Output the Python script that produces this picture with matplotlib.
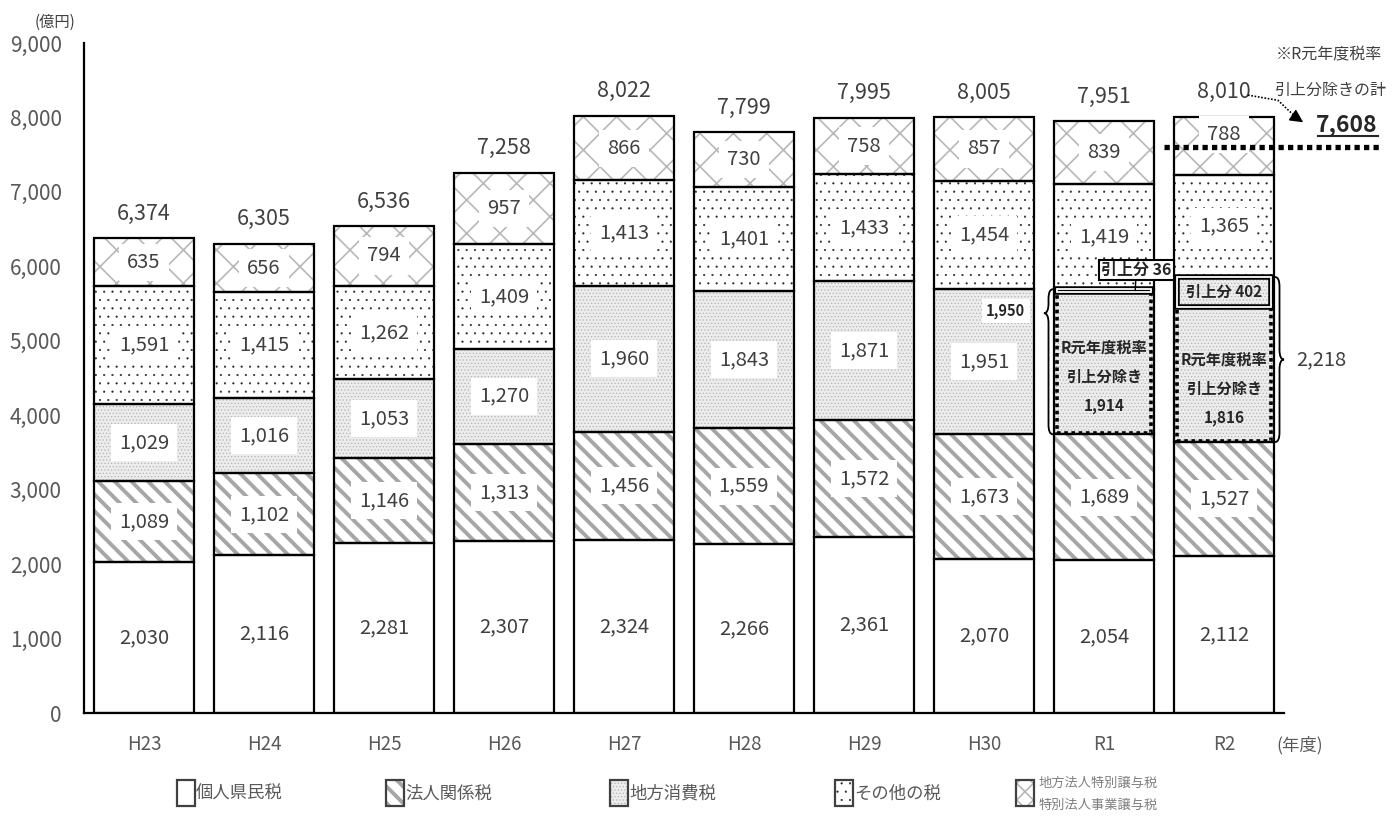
import matplotlib.pyplot as plt
import numpy as np
from matplotlib.patches import Rectangle, PathPatch, FancyArrowPatch
from matplotlib.path import Path

plt.rcParams['font.family'] = ['Noto Sans CJK JP', 'DejaVu Sans']

# 県税収入の内訳（億円）
years = ['H23', 'H24', 'H25', 'H26', 'H27', 'H28', 'H29', 'H30', 'R1', 'R2']
kojin = [2030, 2116, 2281, 2307, 2324, 2266, 2361, 2070, 2054, 2112]
houjin = [1089, 1102, 1146, 1313, 1456, 1559, 1572, 1673, 1689, 1527]
shohi = [1029, 1016, 1053, 1270, 1960, 1843, 1871, 1951, 1950, 2218]
sonota = [1591, 1415, 1262, 1409, 1413, 1401, 1433, 1454, 1419, 1365]
jouyo = [635, 656, 794, 957, 866, 730, 758, 857, 839, 788]
totals = [6374, 6305, 6536, 7258, 8022, 7799, 7995, 8005, 7951, 8010]

# R1・R2 の地方消費税（税率引上分とそれ以外）
shohi_base = [1914, 1816]
shohi_up = [36, 402]
excl_total = 7608

legend_names = ['個人県民税', '法人関係税', '地方消費税', 'その他の税',
                '地方法人特別譲与税\n特別法人事業譲与税']

# facecolor, hatch, hatch color, hatch linewidth
styles = [
    ('white', None, 'white', 1.0),
    ('white', '\\\\', '#a6a6a6', 2.8),
    ('#ececec', '.....', '#b4b4b4', 0.5),
    ('white', '..', '#262626', 0.3),
    ('white', 'x', '#b8b8b8', 1.2),
]
series = [kojin, houjin, shohi, sonota, jouyo]


def hatch_width(artists, lw):
    for a in artists:
        if hasattr(a, 'set_hatch_linewidth'):
            a.set_hatch_linewidth(lw)


W, H = 1394, 827
fig = plt.figure(figsize=(W / 100, H / 100), dpi=100)
ax = fig.add_axes([84 / W, 1 - 713 / H, 1200 / W, 670 / H])

x = np.arange(len(years))
bw = 0.83
bottom = np.zeros(len(years))
label_col = '#404040'
bbox_w = dict(boxstyle='square,pad=0.4', fc='white', ec='none')

for k, (vals, (fc, hatch, hc, hlw)) in enumerate(zip(series, styles)):
    vals = np.array(vals)
    plt.rcParams['hatch.linewidth'] = hlw
    bars = ax.bar(x, vals, bw, bottom=bottom, color=fc, edgecolor=hc, hatch=hatch, linewidth=0)
    hatch_width(bars, hlw)
    ax.bar(x, vals, bw, bottom=bottom, fill=False, edgecolor='black', linewidth=1.6, zorder=3)
    for i in range(len(years)):
        if k == 2 and i >= 8:
            continue
        yc = bottom[i] + vals[i] / 2
        if k == 4 and i == 9:
            yc += 150
        ax.text(x[i], yc, f'{vals[i]:,}', ha='center', va='center', fontsize=14.5,
                color=label_col, bbox=bbox_w, zorder=5)
    bottom = bottom + vals

for i, t in enumerate(totals):
    ax.text(x[i], t + 330, f'{t:,}', ha='center', va='center', fontsize=15.5, color=label_col)

# R1・R2 地方消費税の内訳
base_y = [kojin[8] + houjin[8], kojin[9] + houjin[9]]
inset = 0.02
for j, i in enumerate([8, 9]):
    x0 = x[i] - bw / 2 + inset
    wd = bw - 2 * inset
    ax.add_patch(Rectangle((x0, base_y[j] + 15), wd, shohi_base[j] - 15, fill=False,
                           ec='black', lw=2.6, ls=(0, (1, 1)), zorder=4))
    up0 = base_y[j] + shohi_base[j]
    for lw, col in [(4.0, 'black'), (1.3, 'white')]:
        ax.add_patch(Rectangle((x0 + 0.005, up0), wd - 0.01, shohi_up[j], fill=False,
                               ec=col, lw=lw, zorder=4))
    ax.text(x[i], base_y[j] + shohi_base[j] / 2 - 190,
            f'R元年度税率\n引上分除き\n{shohi_base[j]:,}', ha='center', va='center',
            fontsize=11, fontweight='bold', color='#262626', linespacing=2.0, zorder=5)

ax.text(x[9], base_y[1] + shohi_base[1] + shohi_up[1] / 2, f'引上分 {shohi_up[1]}',
        ha='center', va='center', fontsize=11, fontweight='bold', color='#262626', zorder=5)
ax.annotate(f'引上分 {shohi_up[0]}', xy=(x[8] + 0.26, base_y[0] + shohi_base[0] + 18),
            xytext=(x[8] + 0.27, 5950), ha='center', va='center', fontsize=11.5,
            fontweight='bold', color='#262626', zorder=6,
            bbox=dict(boxstyle='square,pad=0.15', fc='white', ec='black', lw=1.5),
            arrowprops=dict(arrowstyle='-', color='black', lw=1.0, shrinkA=0, shrinkB=0))


def brace(x0, y_top, y_bot, y_tip, w, r, to_right):
    s = 1 if to_right else -1
    xm = x0 + s * w / 2
    xt = x0 + s * w
    verts = [(x0, y_top), (xm, y_top), (xm, y_top - r),
             (xm, y_tip + r), (xm, y_tip), (xt, y_tip),
             (xm, y_tip), (xm, y_tip - r),
             (xm, y_bot + r), (xm, y_bot), (x0, y_bot)]
    codes = [Path.MOVETO, Path.CURVE3, Path.CURVE3,
             Path.LINETO, Path.CURVE3, Path.CURVE3,
             Path.CURVE3, Path.CURVE3,
             Path.LINETO, Path.CURVE3, Path.CURVE3]
    ax.add_patch(PathPatch(Path(verts, codes), fill=False, ec='black', lw=1.3,
                           zorder=6, clip_on=False))


r1_top = base_y[0] + shohi[8]
r2_top = base_y[1] + shohi[9]
brace(x[8] - bw / 2 - 0.01, r1_top, base_y[0], 5370, 0.075, 130, False)
ax.text(7.18, 5400, f'{shohi[8]:,}', ha='center', va='center', fontsize=10.5,
        fontweight='bold', color='#262626', bbox=dict(boxstyle='square,pad=0.3', fc='white', ec='none'),
        zorder=5)
brace(x[9] + bw / 2 + 0.01, r2_top, base_y[1], (r2_top + base_y[1]) / 2, 0.075, 130, True)
ax.text(x[9] + 0.6, (r2_top + base_y[1]) / 2, f'{shohi[9]:,}', ha='left', va='center',
        fontsize=14.5, color=label_col)

# R元年度税率引上分除きの計
ax.plot([8.5, 10.3], [excl_total, excl_total], color='black', lw=3.8,
        ls=(0, (1, 0.8)), clip_on=False, zorder=6)
ax.plot([9.2, 9.45, 9.6], [8300, 8230, 8000], color='black', lw=1.2, ls=(0, (1, 1)),
        clip_on=False, zorder=6)
ax.add_patch(FancyArrowPatch((9.6, 8000), (9.66, 7935), arrowstyle='-|>,head_length=8,head_width=4',
                             color='black', lw=1.0, clip_on=False, zorder=6,
                             shrinkA=0, shrinkB=0))
ax.text(10.02, 7905, f'{excl_total:,}', ha='center', va='center', fontsize=16.5,
        fontweight='bold', color='#262626')
ax.plot([9.78, 10.28], [7755, 7755], color='#262626', lw=1.5, clip_on=False)
ax.text(9.87, 8840, '※R元年度税率', ha='center', va='center', fontsize=11.5, color=label_col)
ax.text(9.89, 8370, '引上分除きの計', ha='center', va='center', fontsize=11.5, color=label_col)

ax.set_xlim(-0.5, 9.5)
ax.set_ylim(0, 9000)
ax.set_yticks(np.arange(0, 9001, 1000))
ax.set_yticklabels([f'{v:,}' for v in range(0, 9001, 1000)])
ax.set_xticks(x)
ax.set_xticklabels(years)
ax.tick_params(axis='y', length=0, pad=16, labelsize=15, labelcolor='#595959')
ax.tick_params(axis='x', length=0, pad=15, labelsize=13.5, labelcolor='#595959')
for side in ['top', 'right']:
    ax.spines[side].set_visible(False)
for side in ['left', 'bottom']:
    ax.spines[side].set_linewidth(1.6)

fig.text(55 / W, 1 - 22 / H, '(億円)', ha='center', va='center', fontsize=11, color=label_col)
fig.text(1300 / W, 1 - 745 / H, '(年度)', ha='center', va='center', fontsize=12.5,
         color='#595959')

# 凡例
leg_x = [177, 386, 610, 835, 1016]
for (fc, hatch, hc, hlw), lx, name in zip(styles, leg_x, legend_names):
    plt.rcParams['hatch.linewidth'] = hlw
    icon_hatch = 'xx' if hatch == 'x' else hatch
    icon = Rectangle((lx / W, 1 - 806 / H), 18 / W, 26 / H, transform=fig.transFigure,
                     fc=fc, ec=hc, hatch=icon_hatch, lw=0)
    hatch_width([icon], hlw)
    fig.add_artist(icon)
    fig.add_artist(Rectangle((lx / W, 1 - 806 / H), 18 / W, 26 / H, transform=fig.transFigure,
                             fill=False, ec='#404040', lw=1.6))
    if '\n' in name:
        fig.text((lx + 23) / W, 1 - 794 / H, name, ha='left', va='center', fontsize=9.5,
                 color='#7f7f7f', linespacing=1.9)
    else:
        fig.text((lx + 19) / W, 1 - 794 / H, name, ha='left', va='center', fontsize=12.5,
                 color='#595959')

fig.savefig('out.png', dpi=100)
